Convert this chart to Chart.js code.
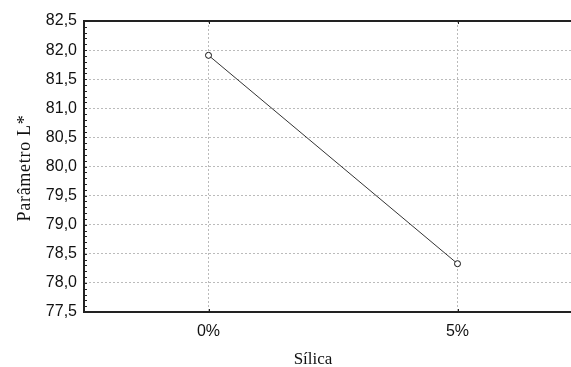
<!DOCTYPE html>
<html>
<head>
<meta charset="utf-8">
<script src="https://cdn.jsdelivr.net/npm/chart.js@4.4.1/dist/chart.umd.min.js"></script>
<style>
html,body{margin:0;padding:0;background:#fff;overflow:hidden;}
#wrap{width:600px;height:367px;}
</style>
</head>
<body>
<div id="wrap"><canvas id="c" width="600" height="367"></canvas></div>
<script>
// data
var categories=['0%','5%'];
var lValues=[81.91,78.33];
var yMin=77.5, yMax=82.5, yStep=0.5, yMinorStep=0.1;
var xTitle='Sílica';
var yTitle='Parâmetro L*';

var tickFont={family:'Liberation Sans',size:16};

// frame top line, inside minor ticks and the axis titles
var frame={
  id:'frame',
  afterDraw:function(chart){
    var ctx=chart.ctx,a=chart.chartArea,ys=chart.scales.y,xs=chart.scales.x;
    ctx.save();
    ctx.strokeStyle='#222';
    ctx.lineWidth=2;
    ctx.beginPath();ctx.moveTo(a.left-1,a.top);ctx.lineTo(a.right,a.top);ctx.stroke();
    ctx.lineWidth=1;
    var n=Math.round((yMax-yMin)/yMinorStep);
    ctx.beginPath();
    for(var i=1;i<n;i++){
      var y=Math.round(ys.getPixelForValue(yMin+i*yMinorStep))+0.5;
      ctx.moveTo(a.left,y);ctx.lineTo(a.left+3,y);
    }
    categories.forEach(function(c,i){
      var x=Math.round(xs.getPixelForValue(i))+0.5;
      ctx.moveTo(x,a.bottom);ctx.lineTo(x,a.bottom-3);
      ctx.moveTo(x,a.top);ctx.lineTo(x,a.top+3);
    });
    ctx.stroke();
    ctx.fillStyle='#111';
    ctx.textAlign='center';ctx.textBaseline='alphabetic';
    ctx.font='17px "Liberation Serif"';
    ctx.fillText(xTitle,313,364);
    ctx.font='18px "Liberation Serif"';
    ctx.letterSpacing='0.7px';
    ctx.translate(30,168);
    ctx.rotate(-Math.PI/2);
    ctx.fillText(yTitle,0,0);
    ctx.restore();
  }
};

new Chart(document.getElementById('c'),{
  type:'line',
  data:{labels:categories,datasets:[{data:lValues,borderColor:'#333',borderWidth:1,pointRadius:3,pointBorderWidth:1,pointBorderColor:'#111',pointBackgroundColor:'#fff',tension:0}]},
  plugins:[frame],
  options:{
    responsive:false,animation:false,
    layout:{padding:{top:21,right:18,left:0,bottom:0}},
    plugins:{legend:{display:false},tooltip:{enabled:false}},
    scales:{
      x:{
        offset:true,
        grid:{offset:false,color:'#bbb',drawTicks:false},
        border:{color:'#222',width:2,dash:[2,2]},
        ticks:{color:'#111',font:tickFont,padding:10},
        afterFit:function(s){s.height=55;}
      },
      y:{
        min:yMin,max:yMax,
        grid:{color:'#bbb',drawTicks:false},
        border:{color:'#222',width:2,dash:[2,2]},
        ticks:{stepSize:yStep,color:'#111',font:tickFont,padding:7,
          callback:function(v){return v.toFixed(1).replace('.',',');}},
        afterFit:function(s){s.width=84;}
      }
    }
  }
});
</script>
</body>
</html>
